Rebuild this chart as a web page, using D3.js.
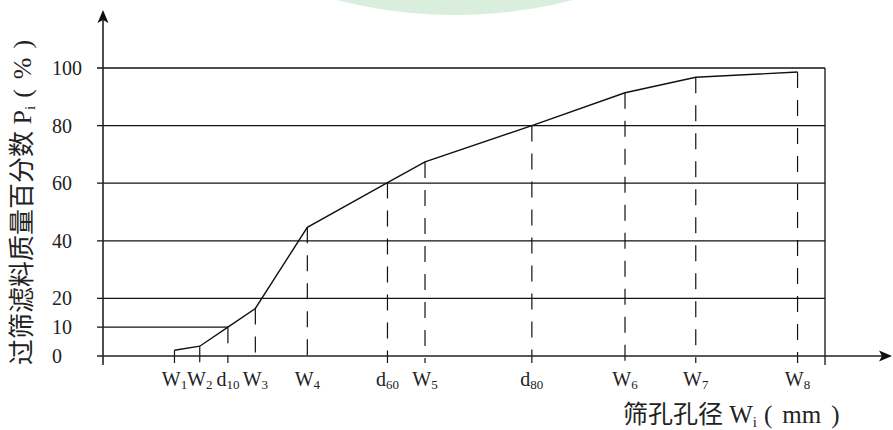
<!DOCTYPE html>
<html>
<head>
<meta charset="utf-8">
<script src="https://cdn.jsdelivr.net/npm/d3@7"></script>
<style>
  body { margin: 0; background: #fff; }
  text { font-family: "Liberation Serif", "Noto Sans CJK SC", serif; fill: #222; }
</style>
</head>
<body>
<div id="chart-wrapper"></div>
<script>

// sieve points along the x axis (relative position, 0 = y axis, 100 = right frame)
const sieveMain = ["W", "W", "d", "W", "W", "d", "W", "d", "W", "W", "W"]
const sieveSub = ["1", "2", "10", "3", "4", "60", "5", "80", "6", "7", "8"]
const sievePos = [9.9, 13.4, 17.3, 21.1, 28.3, 39.4, 44.6, 59.4, 72.3, 82.1, 96.2]
// passing percentage P_i at each point
const passPct = [2.0, 3.4, 10, 16.5, 44.7, 60.2, 67.4, 80, 91.4, 96.8, 98.6]

const yTicks = [0, 10, 20, 40, 60, 80, 100]
const gridValues = [10, 20, 40, 60, 80, 100]

const points = sievePos.map((x, i) => ({
  x: x, p: passPct[i], main: sieveMain[i], sub: sieveSub[i]
}))

const width = 893, height = 430

const svg = d3.select("#chart-wrapper")
  .append("svg")
    .attr("width", width)
    .attr("height", height)

// faint green watermark at the top
svg.append("circle")
  .attr("cx", 455).attr("cy", -456).attr("r", 471)
  .attr("fill", "#d9eedd")

const xScale = d3.scaleLinear().domain([0, 100]).range([103, 825])
const yScale = d3.scaleLinear().domain([0, 100]).range([356, 68])

const x0 = xScale(0), xEnd = xScale(100)
const d10 = points.find(d => d.sub == "10")

// horizontal grid lines (10 line stops at d10)
svg.append("g").selectAll("line")
  .data(gridValues)
  .join("line")
    .attr("x1", x0 - 6)
    .attr("x2", d => d == 10 ? xScale(d10.x) : xEnd)
    .attr("y1", d => yScale(d))
    .attr("y2", d => yScale(d))
    .attr("stroke", "#111")
    .attr("stroke-width", 1.3)

// right frame line
svg.append("line")
  .attr("x1", xEnd).attr("x2", xEnd)
  .attr("y1", yScale(100)).attr("y2", yScale(0) + 9)
  .attr("stroke", "#111").attr("stroke-width", 1.3)

// vertical drop lines from the curve
svg.append("g").selectAll("line")
  .data(points)
  .join("line")
    .attr("x1", d => xScale(d.x))
    .attr("x2", d => xScale(d.x))
    .attr("y1", d => yScale(d.p))
    .attr("y2", yScale(0) + 7)
    .attr("stroke", "#111")
    .attr("stroke-width", 1.2)
    .attr("stroke-dasharray", "16,12")

// axes
svg.append("line")
  .attr("x1", x0 - 6).attr("x2", 884)
  .attr("y1", yScale(0)).attr("y2", yScale(0))
  .attr("stroke", "#222").attr("stroke-width", 1.6)
svg.append("path")
  .attr("d", `M892,${yScale(0)} L879,${yScale(0) - 5.5} L882,${yScale(0)} L879,${yScale(0) + 5.5} Z`)
  .attr("fill", "#111")

svg.append("line")
  .attr("x1", x0).attr("x2", x0)
  .attr("y1", yScale(0) + 9).attr("y2", 18)
  .attr("stroke", "#222").attr("stroke-width", 1.6)
svg.append("path")
  .attr("d", `M${x0},10 L${x0 - 5.5},23 L${x0},20 L${x0 + 5.5},23 Z`)
  .attr("fill", "#111")

// grading curve
const line = d3.line()
  .x(d => xScale(d.x))
  .y(d => yScale(d.p))

svg.append("path")
  .datum(points)
  .attr("d", line)
  .attr("fill", "none")
  .attr("stroke", "#111")
  .attr("stroke-width", 1.4)

// y tick labels
svg.append("g").selectAll("text")
  .data(yTicks)
  .join("text")
    .attr("x", 52)
    .attr("y", d => yScale(d) + 7)
    .attr("font-size", 20)
    .text(d => d)

// x tick labels with subscripts
const xLabels = svg.append("g").selectAll("text")
  .data(points)
  .join("text")
    .attr("x", d => xScale(d.x))
    .attr("y", 386)
    .attr("text-anchor", "middle")
    .attr("font-size", 20)
xLabels.append("tspan").text(d => d.main)
xLabels.append("tspan")
  .attr("font-size", 13)
  .attr("dy", 3)
  .text(d => d.sub)

// x axis title
const xTitle = svg.append("text")
  .attr("x", 623)
  .attr("y", 423)
  .attr("font-size", 25)
xTitle.append("tspan").text("筛孔孔径 W")
xTitle.append("tspan").attr("font-size", 15).attr("dy", 4).text("i")
xTitle.append("tspan").attr("dy", -4).attr("dx", 7).text("(")
xTitle.append("tspan").attr("dx", 10).text("mm")
xTitle.append("tspan").attr("dx", 10).text(")")

// y axis title
const yTitle = svg.append("text")
  .attr("transform", "translate(31,365) rotate(-90)")
  .attr("font-size", 26)
yTitle.append("tspan").text("过筛滤料质量百分数 P")
yTitle.append("tspan").attr("font-size", 15).attr("dy", 4).text("i")
yTitle.append("tspan").attr("dy", -4).attr("dx", 8).text("(")
yTitle.append("tspan").attr("dx", 10).text("%")
yTitle.append("tspan").attr("dx", 9).text(")")

</script>
</body>
</html>
